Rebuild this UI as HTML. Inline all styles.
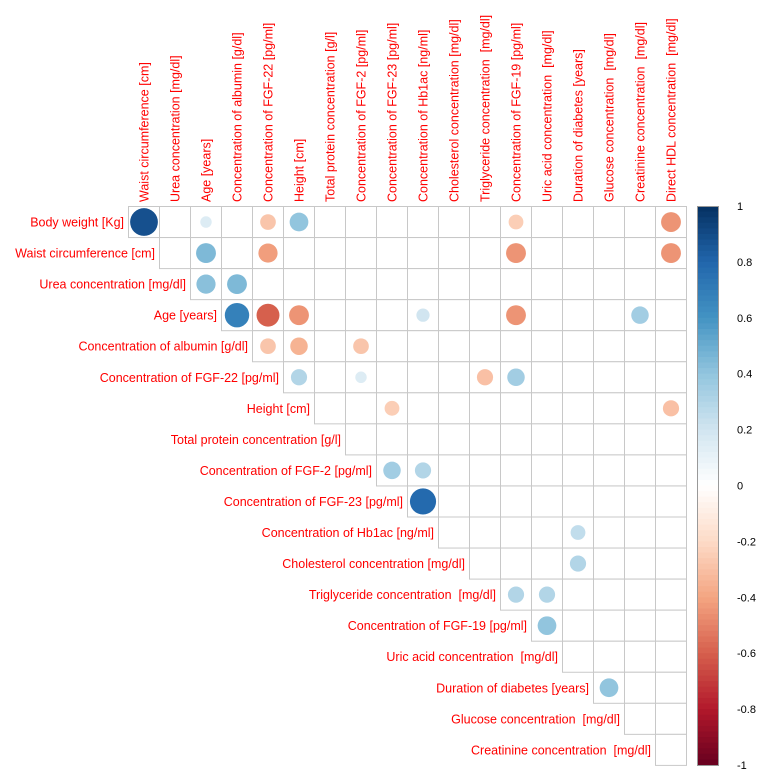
<!DOCTYPE html>
<html><head><meta charset="utf-8"><style>
html,body{margin:0;padding:0;background:#fff;}
svg{display:block;font-family:"Liberation Sans",sans-serif;}
svg text{white-space:pre;}
</style></head><body>
<svg id="chart" width="760" height="777"></svg>
<script>
const rowLabels=["Body weight [Kg]","Waist circumference [cm]","Urea concentration [mg/dl]","Age [years]","Concentration of albumin [g/dl]","Concentration of FGF-22 [pg/ml]","Height [cm]","Total protein concentration [g/l]","Concentration of FGF-2 [pg/ml]","Concentration of FGF-23 [pg/ml]","Concentration of Hb1ac [ng/ml]","Cholesterol concentration [mg/dl]","Triglyceride concentration  [mg/dl]","Concentration of FGF-19 [pg/ml]","Uric acid concentration  [mg/dl]","Duration of diabetes [years]","Glucose concentration  [mg/dl]","Creatinine concentration  [mg/dl]"];
const colLabels=["Waist circumference [cm]","Urea concentration [mg/dl]","Age [years]","Concentration of albumin [g/dl]","Concentration of FGF-22 [pg/ml]","Height [cm]","Total protein concentration [g/l]","Concentration of FGF-2 [pg/ml]","Concentration of FGF-23 [pg/ml]","Concentration of Hb1ac [ng/ml]","Cholesterol concentration [mg/dl]","Triglyceride concentration  [mg/dl]","Concentration of FGF-19 [pg/ml]","Uric acid concentration  [mg/dl]","Duration of diabetes [years]","Glucose concentration  [mg/dl]","Creatinine concentration  [mg/dl]","Direct HDL concentration  [mg/dl]"];
const corrRows=[0,0,0,0,0,0,1,1,1,1,2,2,3,3,3,3,3,3,4,4,4,5,5,5,5,6,6,8,8,9,10,11,12,12,13,15];
const corrCols=[0,2,4,5,12,17,2,4,12,17,2,3,3,4,5,9,12,16,4,5,7,5,7,11,12,8,17,8,9,9,14,14,12,13,13,15];
const corrVals=[0.88,0.15,-0.28,0.4,-0.25,-0.45,0.45,-0.42,-0.45,-0.45,0.42,0.45,0.68,-0.6,-0.45,0.2,-0.45,0.35,-0.28,-0.35,-0.28,0.3,0.15,-0.3,0.35,-0.25,-0.3,0.35,0.3,0.78,0.25,0.3,0.3,0.3,0.4,0.4];
const barTicks=[1,0.8,0.6,0.4,0.2,0,-0.2,-0.4,-0.6,-0.8,-1];

const NS="http://www.w3.org/2000/svg";
const svg=document.getElementById("chart");
const x0=128,y0=206,cw=31,ch=31.05,n=18;
const xPos=j=>x0+j*cw, yPos=i=>y0+i*ch;
const pal=["#67001F","#B2182B","#D6604D","#F4A582","#FDDBC7","#FFFFFF","#D1E5F0","#92C5DE","#4393C3","#2166AC","#053061"];
function hex(h){return [1,3,5].map(k=>parseInt(h.substr(k,2),16));}
function color(v){const t=(v+1)/2*10;const i=Math.min(9,Math.floor(t));const f=t-i;const a=hex(pal[i]),b=hex(pal[i+1]);return "rgb("+a.map((c,k)=>Math.round(c+(b[k]-c)*f)).join(",")+")";}
function mk(tag,attrs,txt){const e=document.createElementNS(NS,tag);for(const k in attrs)e.setAttribute(k,attrs[k]);if(txt!==undefined)e.textContent=txt;svg.appendChild(e);return e;}

for(let i=0;i<n;i++)for(let j=i;j<n;j++){
  const r=mk("rect",{x:xPos(j)+0.5,y:yPos(i)+0.5,width:cw,height:ch,fill:"#fff",stroke:"#c8c8c8","stroke-width":1});
  
  
}
rowLabels.forEach((l,i)=>{
  const t=mk("text",{x:xPos(i)-4,y:yPos(i)+ch/2+5,"text-anchor":"end","font-size":12.5,fill:"#ff0000"},l);
  
  
});
colLabels.forEach((l,j)=>{
  const cx=xPos(j)+cw/2+5,cy=y0-4;
  const t=mk("text",{x:cx,y:cy,transform:"rotate(-90 "+cx+" "+cy+")","font-size":12.5,fill:"#ff0000"},l);
  
  
});
corrVals.forEach((v,k)=>{
  const c=mk("circle",{cx:xPos(corrCols[k])+cw/2+0.5,cy:yPos(corrRows[k])+ch/2+0.5,r:Math.sqrt(Math.abs(v))*14.8,fill:color(v)});
  
  
});
const bx=697,bw=21,by=206,bh=559;
const steps=100;
for(let s=0;s<steps;s++){
  const v=1-2*(s+0.5)/steps;
  const r=mk("rect",{x:bx,y:by+s*bh/steps,width:bw,height:bh/steps+0.6,fill:color(v)});
  
  
}
const fr=mk("rect",{x:bx+0.5,y:by+0.5,width:bw,height:bh,fill:"none",stroke:"#999","stroke-width":1});


barTicks.forEach(v=>{
  const y=by+(1-v)/2*bh;
  const t=mk("text",{x:737,y:y+4,"font-size":11,fill:"#000"},String(v));
  
  
});
</script>
</body></html>
